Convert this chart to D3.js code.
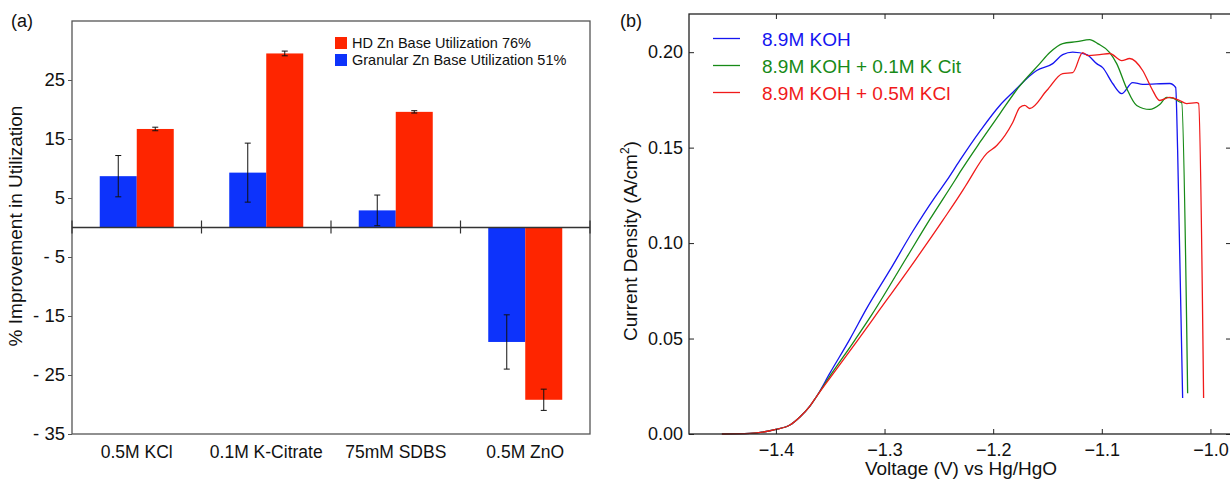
<!DOCTYPE html>
<html>
<head>
<meta charset="utf-8">
<script src="https://cdn.jsdelivr.net/npm/d3@7"></script>
<style>
  body { margin: 0; background: #fff; }
  svg { display: block; font-family: "Liberation Sans", Arial, sans-serif; }
</style>
</head>
<body>
<svg id="chart" width="1230" height="479"></svg>
<script>
// panel (a) data
var categories = ["0.5M KCl", "0.1M K-Citrate", "75mM SDBS", "0.5M ZnO"];
var granular = [8.7, 9.3, 2.9, -19.4];
var granularErr = [3.5, 5.0, 2.6, 4.6];
var hd = [16.7, 29.5, 19.6, -29.2];
var hdErr = [0.3, 0.4, 0.2, 1.8];
var barTicks = [25, 15, 5, -5, -15, -25, -35];

// panel (b) data, [voltage, current density]
var koh = [[-1.4497,0],[-1.4239,0.0003],[-1.4,0.0024],[-1.3871,0.0047],[-1.3779,0.0089],[-1.3687,0.0146],[-1.3623,0.0199],
  [-1.3503,0.0319],[-1.3319,0.0497],[-1.3163,0.0659],[-1.2951,0.0858],[-1.2740,0.1062],[-1.2537,0.1240],[-1.2427,0.1328],
  [-1.2307,0.1433],[-1.2123,0.1585],[-1.1939,0.1721],[-1.1820,0.1789],[-1.1599,0.1904],[-1.1452,0.1940],[-1.1360,0.1987],
  [-1.1268,0.2000],[-1.1139,0.1987],[-1.1047,0.1940],[-1.0992,0.1919],[-1.0900,0.1836],[-1.0817,0.1783],[-1.0716,0.1841],
  [-1.0624,0.1831],[-1.0375,0.1836],[-1.0320,0.1815],[-1.0302,0.1485],[-1.0256,0.0188]];
var kohCit = [[-1.4497,0],[-1.4239,0.0003],[-1.4,0.0024],[-1.3871,0.0047],[-1.3779,0.0089],[-1.3687,0.0146],[-1.3623,0.0199],
  [-1.3503,0.0303],[-1.3273,0.0492],[-1.3117,0.0625],[-1.2795,0.0926],[-1.2583,0.1124],[-1.2353,0.1328],[-1.2307,0.1370],
  [-1.2123,0.1527],[-1.1939,0.1677],[-1.1774,0.1810],[-1.1571,0.1940],[-1.1479,0.1998],[-1.1360,0.2045],[-1.1231,0.2055],
  [-1.1111,0.2066],[-1.1038,0.2045],[-1.0927,0.1998],[-1.0863,0.1940],[-1.0771,0.1810],[-1.0679,0.1721],[-1.0559,0.1700],
  [-1.0467,0.1726],[-1.0403,0.1763],[-1.0348,0.1760],[-1.0283,0.1739],[-1.0265,0.1736],[-1.0210,0.0214]];
var kohKcl = [[-1.4497,0],[-1.4239,0.0003],[-1.4,0.0024],[-1.3871,0.0047],[-1.3779,0.0089],[-1.3687,0.0146],[-1.3623,0.0199],
  [-1.3503,0.0293],[-1.3246,0.0492],[-1.3071,0.0630],[-1.2712,0.0915],[-1.2464,0.1119],[-1.2280,0.1276],[-1.2234,0.1318],
  [-1.2059,0.1470],[-1.1967,0.1511],[-1.1820,0.1632],[-1.1755,0.1710],[-1.1709,0.1721],[-1.1663,0.1705],[-1.1507,0.1799],
  [-1.1360,0.1888],[-1.1268,0.1893],[-1.1176,0.1998],[-1.1130,0.1982],[-1.1019,0.1987],[-1.0927,0.1993],[-1.0817,0.1956],
  [-1.0743,0.1967],[-1.0624,0.1904],[-1.0541,0.1810],[-1.0467,0.1747],[-1.0375,0.1763],[-1.0283,0.1747],[-1.0219,0.1731],
  [-1.0127,0.1736],[-1.0109,0.1731],[-1.0063,0.0188]];
var curveNames = ["8.9M KOH", "8.9M KOH + 0.1M K Cit", "8.9M KOH + 0.5M KCl"];
var voltTicks = [-1.4, -1.3, -1.2, -1.1, -1.0];
var densTicks = [0, 0.05, 0.10, 0.15, 0.20];

var svg = d3.select("#chart");
var blue = "#0d33fb", red = "#fe2500", frame = "#555";

// ---------- panel (a) ----------
var x0 = d3.scaleBand().domain(categories).range([72, 590]).paddingInner(0).paddingOuter(0);
var x1 = d3.scaleBand().domain(["g", "h"]).range([0, x0.bandwidth()]).paddingInner(0).paddingOuter(0.75);
var ya = d3.scaleLinear().domain([-35, 35]).range([434, 21]);

var ga = svg.append("g");

var groups = ga.selectAll(".grp")
    .data(categories)
    .enter().append("g")
    .attr("class", "grp")
    .attr("transform", function (d) { return "translate(" + x0(d) + ",0)"; });

function bars(key, vals, errs, color) {
  groups.append("rect")
      .attr("x", x1(key))
      .attr("width", x1.bandwidth())
      .attr("y", function (d, i) { return ya(Math.max(0, vals[i])); })
      .attr("height", function (d, i) { return Math.abs(ya(vals[i]) - ya(0)); })
      .attr("fill", color);
  var cx = x1(key) + x1.bandwidth() / 2;
  groups.append("line")
      .attr("x1", cx).attr("x2", cx)
      .attr("y1", function (d, i) { return ya(vals[i] + errs[i]); })
      .attr("y2", function (d, i) { return ya(vals[i] - errs[i]); })
      .attr("stroke", "#111").attr("stroke-width", 1);
  [1, -1].forEach(function (s) {
    groups.append("line")
        .attr("x1", cx - 3).attr("x2", cx + 3)
        .attr("y1", function (d, i) { return ya(vals[i] + s * errs[i]); })
        .attr("y2", function (d, i) { return ya(vals[i] + s * errs[i]); })
        .attr("stroke", "#111").attr("stroke-width", 1);
  });
}
bars("g", granular, granularErr, blue);
bars("h", hd, hdErr, red);

// frame
ga.append("rect")
    .attr("x", 72).attr("y", 21).attr("width", 590 - 72).attr("height", 434 - 21)
    .attr("fill", "none").attr("stroke", frame).attr("stroke-width", 1.3);

// zero line with group ticks
ga.append("line")
    .attr("x1", 72).attr("x2", 590).attr("y1", ya(0)).attr("y2", ya(0))
    .attr("stroke", "#333").attr("stroke-width", 1.3);
ga.selectAll(".zt")
    .data(categories.slice(1).map(function (d) { return x0(d); }).concat([72, 590]))
    .enter().append("line")
    .attr("x1", function (d) { return d; }).attr("x2", function (d) { return d; })
    .attr("y1", ya(0) - 7).attr("y2", ya(0) + 6)
    .attr("stroke", "#333").attr("stroke-width", 1.2);

var yaxisA = ga.append("g")
    .attr("transform", "translate(72,0)")
    .call(d3.axisLeft(ya).tickValues(barTicks).tickSize(4).tickPadding(3)
      .tickFormat(function (d) { return d < 0 ? "- " + Math.abs(d) : d; }));
yaxisA.select(".domain").remove();
yaxisA.selectAll("line").attr("stroke", frame);
yaxisA.selectAll("text").attr("font-size", 18.5).attr("fill", "#111")
    .attr("font-family", "Liberation Sans, Arial, sans-serif");

ga.selectAll(".xl")
    .data(categories)
    .enter().append("text")
    .attr("x", function (d) { return x0(d) + x0.bandwidth() / 2; })
    .attr("y", 458)
    .attr("text-anchor", "middle")
    .attr("font-size", 17.5)
    .attr("fill", "#111")
    .text(function (d) { return d; });

ga.append("text")
    .attr("transform", "translate(22,226) rotate(-90)")
    .attr("text-anchor", "middle")
    .attr("font-size", 19)
    .attr("fill", "#111")
    .text("% Improvement in Utilization");

ga.append("text").attr("x", 11).attr("y", 27).attr("font-size", 18).attr("fill", "#111").text("(a)");

// legend
var legA = [["HD Zn Base Utilization 76%", red], ["Granular Zn Base Utilization 51%", blue]];
legA.forEach(function (d, i) {
  ga.append("rect").attr("x", 335).attr("y", 37 + i * 17).attr("width", 12).attr("height", 12).attr("fill", d[1]);
  ga.append("text").attr("x", 352).attr("y", 48 + i * 17).attr("font-size", 14.5).attr("fill", "#111").text(d[0]);
});

// ---------- panel (b) ----------
var xb = d3.scaleLinear().domain([-1.48, -0.982]).range([689, 1230]);
var yb = d3.scaleLinear().domain([0, 0.22]).range([434, 14]);
var gb = svg.append("g");

var line = d3.line()
    .x(function (d) { return xb(d[0]); })
    .y(function (d) { return yb(d[1]); })
    .curve(d3.curveMonotoneX);

var curves = [[koh, "#1515f0"], [kohCit, "#178a17"], [kohKcl, "#f01a1a"]];
curves.forEach(function (c) {
  gb.append("path")
      .attr("d", line(c[0]))
      .attr("fill", "none")
      .attr("stroke", c[1])
      .attr("stroke-width", 1.3);
});

gb.append("rect")
    .attr("x", 689).attr("y", 14).attr("width", 1232 - 689).attr("height", 434 - 14)
    .attr("fill", "none").attr("stroke", "#222").attr("stroke-width", 1.3);

var xaxB = gb.append("g").attr("transform", "translate(0,434)")
    .call(d3.axisBottom(xb).tickValues(voltTicks).tickSize(-5).tickPadding(9)
      .tickFormat(function (d) { return d3.format(".1f")(d).replace("-", "\u2212"); }));
var xaxT = gb.append("g").attr("transform", "translate(0,14)")
    .call(d3.axisTop(xb).tickValues(voltTicks).tickSize(-5).tickFormat(""));
var yaxB = gb.append("g").attr("transform", "translate(689,0)")
    .call(d3.axisLeft(yb).tickValues(densTicks).tickSize(-5).tickPadding(6).tickFormat(d3.format(".2f")));
var yaxR = gb.append("g").attr("transform", "translate(1231,0)")
    .call(d3.axisRight(yb).tickValues(densTicks).tickSize(-5).tickFormat(""));
[xaxB, xaxT, yaxB, yaxR].forEach(function (a) {
  a.select(".domain").remove();
  a.selectAll("line").attr("stroke", "#222");
  a.selectAll("text").attr("font-size", 18).attr("fill", "#111")
      .attr("font-family", "Liberation Sans, Arial, sans-serif");
});

gb.append("text")
    .attr("x", 961).attr("y", 475)
    .attr("text-anchor", "middle")
    .attr("font-size", 19)
    .attr("fill", "#111")
    .text("Voltage (V) vs Hg/HgO");

var ylab = gb.append("text")
    .attr("transform", "translate(637,241) rotate(-90)")
    .attr("text-anchor", "middle")
    .attr("font-size", 19)
    .attr("fill", "#111");
ylab.append("tspan").text("Current Density (A/cm");
ylab.append("tspan").attr("font-size", 12).attr("dy", -8).text("2");
ylab.append("tspan").attr("dy", 8).text(")");

gb.append("text").attr("x", 620).attr("y", 27).attr("font-size", 18).attr("fill", "#111").text("(b)");

curveNames.forEach(function (n, i) {
  var yy = 38.5 + i * 27;
  gb.append("line").attr("x1", 713).attr("x2", 740).attr("y1", yy).attr("y2", yy)
      .attr("stroke", curves[i][1]).attr("stroke-width", 1.3);
  gb.append("text").attr("x", 762).attr("y", yy + 7).attr("font-size", 19)
      .attr("fill", curves[i][1]).text(n);
});
</script>
</body>
</html>
